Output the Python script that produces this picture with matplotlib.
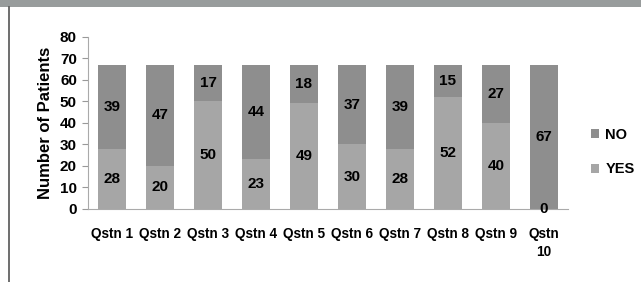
import matplotlib.pyplot as plt
from matplotlib.patches import Rectangle
import numpy as np

# Dados do gráfico
perguntas = ['Qstn 1', 'Qstn 2', 'Qstn 3', 'Qstn 4', 'Qstn 5',
             'Qstn 6', 'Qstn 7', 'Qstn 8', 'Qstn 9', 'Qstn\n10']
sim = [28, 20, 50, 23, 49, 30, 28, 52, 40, 0]
nao = [39, 47, 17, 44, 18, 37, 39, 15, 27, 67]

cor_sim = '#a6a6a6'
cor_nao = '#8e8e8e'

plt.rcParams['font.family'] = ['Liberation Sans', 'DejaVu Sans']
plt.rcParams['font.weight'] = 'bold'

fig = plt.figure(figsize=(6.41, 2.82), dpi=100)

# Faixa cinza do título (cortada) e borda esquerda
fig.patches.append(Rectangle((0, 1 - 7 / 282), 1, 7 / 282, transform=fig.transFigure,
                             facecolor='#989c9c', edgecolor='none'))
fig.add_artist(plt.Line2D([8.5 / 641, 8.5 / 641], [0, 1 - 7 / 282], color='#555555', lw=1.2))

ax = fig.add_axes([88 / 641, 1 - 209 / 282, 480 / 641, 172.3 / 282])
x = np.arange(len(perguntas))
b1 = ax.bar(x, sim, width=0.57, color=cor_sim, label='YES')
b2 = ax.bar(x, nao, width=0.57, bottom=sim, color=cor_nao, label='NO')

for i in range(len(x)):
    ax.text(x[i], sim[i] / 2, str(sim[i]), ha='center', va='center', fontsize=11, fontweight='bold')
    ax.text(x[i], sim[i] + nao[i] / 2, str(nao[i]), ha='center', va='center', fontsize=11, fontweight='bold')

ax.set_xlim(-0.5, len(x) - 0.5)
ax.set_ylim(0, 80)
ax.set_yticks(range(0, 81, 10))
ax.set_xticks(x)
ax.set_xticklabels(perguntas, fontsize=9.8, fontweight='bold', linespacing=1.4)
ax.tick_params(axis='y', labelsize=11, length=4, color='#999999', pad=4)
ax.tick_params(axis='x', length=0, pad=13)
ax.spines['top'].set_visible(False)
ax.spines['right'].set_visible(False)
ax.spines['left'].set_color('#aaaaaa')
ax.spines['bottom'].set_color('#aaaaaa')
ax.set_ylabel('Number of Patients', fontsize=12, fontweight='bold', labelpad=5)

ax.legend(handles=[b2, b1], loc='center left', bbox_to_anchor=(1.02, 0.33), frameon=False,
          fontsize=10.5, handlelength=0.6, handleheight=0.6, handletextpad=0.4, labelspacing=1.4)

plt.savefig('out.png', dpi=100)
plt.close()
